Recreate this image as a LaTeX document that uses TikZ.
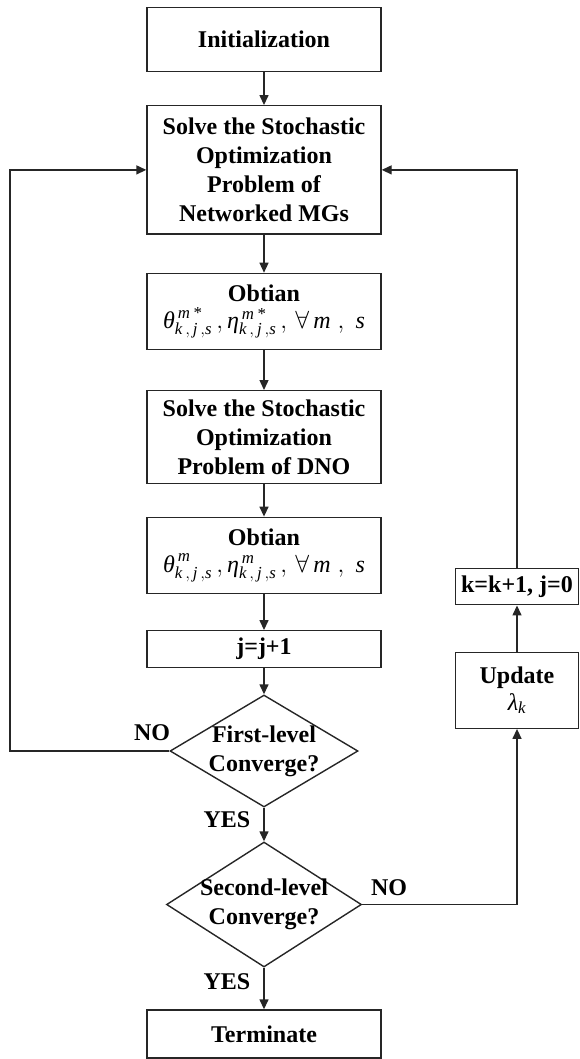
\documentclass[tikz,border=0pt]{standalone}
\usepackage{amsmath}
\usepackage{fontspec}
\setmainfont{Liberation Serif}
\usetikzlibrary{arrows.meta,shapes.geometric}
\newcommand{\mi}[1]{\text{\normalfont\itshape #1}}
\begin{document}
\begin{tikzpicture}[x=1pt,y=-1pt,
  line width=1.4pt, draw=black!85,
  >={Triangle[length=10pt,width=9pt]},
  txt/.style={font=\bfseries\fontsize{24}{29}\selectfont},
  box/.style={draw,rectangle,inner sep=0pt,align=center,txt,minimum width=234pt},
  dec/.style={draw,diamond,inner sep=0pt},
  lab/.style={txt,inner sep=0pt},
]
\useasboundingbox (0,0) rectangle (579,1059);

\node[box,minimum height=64pt] (init) at (264,39.3) {Initialization};
\node[box,minimum height=128.3pt] (s1) at (264,169.9) {Solve the Stochastic\\Optimization\\Problem of\\Networked MGs};
\node[box,minimum height=76pt] (o1) at (264,311.4) {Obtian\\[-2pt]
  {\mdseries $\mi{θ}^{\,\mi{m}\,\mi{*}}_{\mi{k}\,,\,\mi{j}\,,\mi{s}}\,,\mi{η}^{\,\mi{m}\,\mi{*}}_{\mi{k}\,,\,\mi{j}\,,\mi{s}}\,,\,\forall\,\mi{m}\;,\;\mi{s}$}};
\node[box,minimum height=92.6pt] (s2) at (264,437) {Solve the Stochastic\\Optimization\\Problem of DNO};
\node[box,minimum height=76pt] (o2) at (264,555.3) {Obtian\\[-2pt]
  {\mdseries $\mi{θ}^{\,\mi{m}}_{\mi{k}\,,\,\mi{j}\,,\mi{s}}\,,\mi{η}^{\,\mi{m}}_{\mi{k}\,,\,\mi{j}\,,\mi{s}}\,,\,\forall\,\mi{m}\;,\;\mi{s}$}};
\node[box,minimum height=36.5pt] (jb) at (264,649) {j=j+1};
\node[dec,minimum width=188pt,minimum height=112pt,
  label={[lab,align=center]center:First-level\\Converge?}] (d1) at (264,751) {};
\node[dec,minimum width=195pt,minimum height=125pt,
  label={[lab,align=center]center:Second-level\\Converge?}] (d2) at (264,904.5) {};
\node[box,minimum height=48pt] (term) at (264,1034) {Terminate};
\node[box,minimum width=123pt,minimum height=36.5pt] (kb) at (517,586.5) {k=k+1, j=0};
\node[box,minimum width=123pt,minimum height=76pt] (upd) at (517,690.2) {Update\\[-2pt]{\mdseries $\mi{λ}_{\mi{k}}$}};

\coordinate (L) at (10,751);

\draw[->] (init) -- (s1);
\draw[->] (s1) -- (o1);
\draw[->] (o1) -- (s2);
\draw[->] (s2) -- (o2);
\draw[->] (o2) -- (jb);
\draw[->] (jb) -- (d1);
\draw[->] (d1) -- (d2);
\draw[->] (d2) -- (term);
\draw[->] (d1.west) -- (L) |- (s1.west);
\draw[->] (d2.east) -| (upd.south);
\draw[->] (upd) -- (kb);
\draw[->] (kb.north) |- (s1.east);

\node[lab] (no1) at (152,733) {NO};
\node[lab] (yes1) at (227,820) {YES};
\node[lab] (no2) at (389,888) {NO};
\node[lab] (yes2) at (227,982) {YES};
\end{tikzpicture}
\end{document}
